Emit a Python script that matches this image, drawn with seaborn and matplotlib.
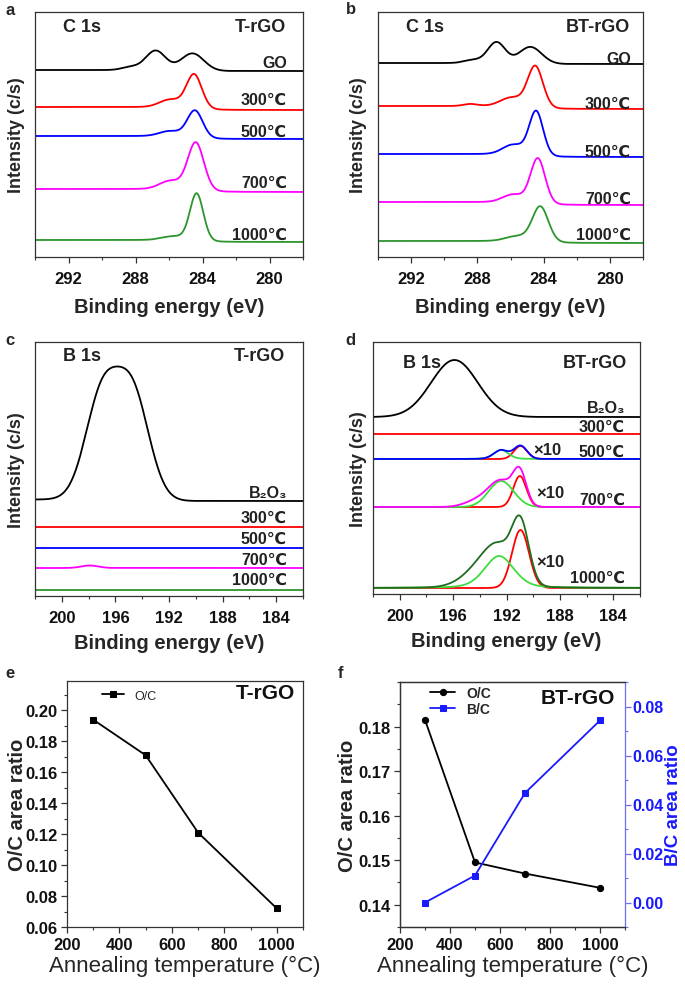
import numpy as np
import pandas as pd
import seaborn as sns
import matplotlib
matplotlib.use('Agg')
import matplotlib.pyplot as plt
from matplotlib.ticker import MultipleLocator, FormatStrFormatter

# ---------------- data ----------------
# spectra: baseline offset, Shirley-like step, peaks (centre eV, height, fwhm eV, lorentz fraction)
temp_labels = ['300℃', '500℃', '700℃', '1000℃']
c1s_labels = ['GO'] + temp_labels
c1s_colors = ['black', 'red', 'blue', 'magenta', '#2c952c']

c1s_t_base = [186, 147, 118, 65, 15]
c1s_t_step = [1, 3, 3, 3, 2]
c1s_t_peaks = [
    [(284.6, 17.5, 1.6, 0), (286.8, 19.5, 1.4, 0), (288.3, 3, 1.2, 0)],
    [(284.5, 35, 1.1, 0.1), (285.9, 8, 1.5, 0)],
    [(284.45, 28, 1.1, 0.1), (285.9, 5.5, 1.5, 0)],
    [(284.4, 49, 1.15, 0.1), (285.9, 8.5, 1.5, 0)],
    [(284.35, 48, 0.95, 0.1), (285.7, 4, 1.6, 0)],
]
c1s_t_label_y = [195, 158, 126, 75, 23]

c1s_bt_base = [193, 148, 100, 52, 14]
c1s_bt_step = [1, 3, 3, 3, 2]
c1s_bt_peaks = [
    [(284.8, 17, 1.6, 0), (286.85, 21, 1.25, 0), (288.3, 3, 1.2, 0)],
    [(284.5, 42, 1.1, 0.1), (285.9, 9, 1.6, 0), (288.4, 2, 1.0, 0)],
    [(284.45, 45, 1.0, 0.1), (285.8, 10, 1.5, 0)],
    [(284.35, 46, 1.05, 0.1), (285.8, 8, 1.5, 0)],
    [(284.2, 36, 1.15, 0.1), (285.6, 5, 1.6, 0)],
]
c1s_bt_label_y = [199, 154, 106, 59, 23]

b1s_labels = ['B₂O₃'] + temp_labels
b1s_colors = ['black', 'red', 'blue', 'magenta', '#2c952c']
b1s_t_base = [95, 69, 48, 28, 6]
b1s_t_step = [1.5, 0, 0, 0, 0]
b1s_t_peaks = [
    [(197.0, 104, 2.9, 0), (194.7, 104, 2.9, 0)],
    [],
    [],
    [(197.9, 2.5, 1.5, 0)],
    [],
]
b1s_t_label_y = [103, 79, 58, 37, 17]

# BT-rGO B 1s: B2O3 and 300 C curves, then fitted 500/700/1000 C curves
b1s_bt_b2o3 = (177, [(195.9, 57, 4.1, 0)])
b1s_bt_300 = 160
b1s_bt_fit_base = [135, 87, 6]
b1s_bt_fit_colors = ['blue', 'magenta', '#1f6d1f']
b1s_bt_green = [(192.4, 9, 1.3, 0.2), (192.4, 26, 2.2, 0), (192.55, 32, 2.6, 0.3)]
b1s_bt_red = [(190.95, 13, 1.15, 0), (191.0, 31, 1.15, 0), (190.95, 58, 1.5, 0)]
b1s_bt_extra = [(193.5, 0, 2.0, 0), (194.2, 6, 2.2, 0), (193.8, 18, 3.2, 0)]
b1s_bt_label_y = [186, 168, 143, 95, 17]
x10_pos = [(190.0, 144), (189.8, 101), (189.8, 32)]

# area ratios
anneal_t = [300, 500, 700, 1000]
oc_t_rgo = [0.194, 0.171, 0.121, 0.072]
oc_bt_rgo = [0.1815, 0.1495, 0.147, 0.1438]
bc_bt_rgo = [0.000, 0.011, 0.0447, 0.0743]

# ---------------- helpers ----------------
def peak(x, c, h, w, eta):
    g = np.exp(-4 * np.log(2) * ((x - c) / w) ** 2)
    l = 1 / (1 + 4 * ((x - c) / w) ** 2)
    return h * ((1 - eta) * g + eta * l)

def spectrum(x, base, step, peaks):
    y = np.full_like(x, base, dtype=float)
    if step and peaks:
        y += step / (1 + np.exp(-(x - peaks[0][0] - 1.0) / 0.5))
    for p in peaks:
        y += peak(x, *p)
    return y

def style_xps(ax, xlim, ytop, xpad, ylab_x):
    ax.set_xlim(*xlim)
    ax.set_ylim(0, ytop)
    ax.set_yticks([])
    ax.xaxis.set_major_locator(MultipleLocator(4))
    ax.xaxis.set_minor_locator(MultipleLocator(2))
    ax.tick_params(axis='x', which='major', length=4, width=0.9, labelsize=12, pad=6)
    ax.tick_params(axis='x', which='minor', length=2.5, width=0.8)
    ax.set_xlabel('Binding energy (eV)', fontsize=14.5, fontweight='bold', labelpad=xpad)
    ax.set_ylabel('Intensity (c/s)', fontsize=13, fontweight='bold')
    ax.yaxis.set_label_coords(ylab_x, 0.5)

def curve_labels(ax, labels, ys, xr, size=11.5):
    tr = ax.get_yaxis_transform()
    for lab, yy in zip(labels, ys):
        ax.text(xr, yy, lab, transform=tr, ha='right', va='center',
                fontsize=size, fontweight='bold', color='#222222')

def corner_labels(ax, left, right, xl, xr, yy):
    ax.text(xl, yy, left, transform=ax.transAxes, ha='center', va='center',
            fontsize=13, fontweight='bold', color='#222222')
    ax.text(xr, yy, right, transform=ax.transAxes, ha='right', va='center',
            fontsize=13, fontweight='bold', color='#222222')

# ---------------- figure ----------------
sns.set_theme(style='ticks')
plt.rcParams['font.family'] = ['Liberation Sans', 'DejaVu Sans']
plt.rcParams['font.weight'] = 'bold'
plt.rcParams['axes.linewidth'] = 0.9
plt.rcParams['axes.edgecolor'] = '#333333'
plt.rcParams['xtick.color'] = '#333333'
plt.rcParams['ytick.color'] = '#333333'
plt.rcParams['xtick.labelcolor'] = '#111111'
plt.rcParams['ytick.labelcolor'] = '#111111'

W, H = 685, 987
fig = plt.figure(figsize=(W / 100, H / 100), dpi=100)

def rect(l, r, t, b):
    return [l / W, 1 - b / H, (r - l) / W, (b - t) / H]

ax_a = fig.add_axes(rect(35, 303, 13, 258))
ax_b = fig.add_axes(rect(378, 643, 13, 258))
ax_c = fig.add_axes(rect(35, 303, 343, 597))
ax_d = fig.add_axes(rect(373, 640, 343, 595))
ax_e = fig.add_axes(rect(67, 303, 682, 928))
ax_f = fig.add_axes(rect(400, 625, 683, 928))

lw = 1.3
e_c = np.linspace(278, 294, 700)
e_b = np.linspace(182, 202, 700)

# a
for b, s, p, col in zip(c1s_t_base, c1s_t_step, c1s_t_peaks, c1s_colors):
    sns.lineplot(x=e_c, y=spectrum(e_c, b, s, p), ax=ax_a, color=col, lw=lw)
style_xps(ax_a, (294, 278), 245, 8, -0.037)
curve_labels(ax_a, c1s_labels, c1s_t_label_y, 0.94)
corner_labels(ax_a, 'C 1s', 'T-rGO', 0.175, 0.935, 0.94)

# b
for b, s, p, col in zip(c1s_bt_base, c1s_bt_step, c1s_bt_peaks, c1s_colors):
    sns.lineplot(x=e_c, y=spectrum(e_c, b, s, p), ax=ax_b, color=col, lw=lw)
style_xps(ax_b, (294, 278), 245, 8, -0.042)
curve_labels(ax_b, c1s_labels, c1s_bt_label_y, 0.955)
corner_labels(ax_b, 'C 1s', 'BT-rGO', 0.177, 0.951, 0.94)

# c
for b, s, p, col in zip(b1s_t_base, b1s_t_step, b1s_t_peaks, b1s_colors):
    sns.lineplot(x=e_b, y=spectrum(e_b, b, s, p), ax=ax_c, color=col, lw=lw)
style_xps(ax_c, (202, 182), 254, 6, -0.037)
curve_labels(ax_c, b1s_labels, b1s_t_label_y, 0.94)
corner_labels(ax_c, 'B 1s', 'T-rGO', 0.175, 0.933, 0.945)

# d
sns.lineplot(x=e_b, y=spectrum(e_b, b1s_bt_b2o3[0], 0, b1s_bt_b2o3[1]), ax=ax_d, color='black', lw=lw)
sns.lineplot(x=e_b, y=spectrum(e_b, b1s_bt_300, 0, []), ax=ax_d, color='red', lw=lw)
for b, col, g, r, ex in zip(b1s_bt_fit_base, b1s_bt_fit_colors, b1s_bt_green, b1s_bt_red, b1s_bt_extra):
    sns.lineplot(x=e_b, y=spectrum(e_b, b, 0, [r]), ax=ax_d, color='red', lw=lw)
    sns.lineplot(x=e_b, y=spectrum(e_b, b, 0, [g]), ax=ax_d, color='#3fdc3f', lw=lw)
    sns.lineplot(x=e_b, y=spectrum(e_b, b, 0, [g, r, ex]), ax=ax_d, color=col, lw=lw)
style_xps(ax_d, (202, 182), 252, 6, -0.024)
curve_labels(ax_d, b1s_labels, b1s_bt_label_y, 0.944)
for ex, ey in x10_pos:
    ax_d.text(ex, ey, '×10', ha='left', va='center', fontsize=12, fontweight='bold', color='#222222')
corner_labels(ax_d, 'B 1s', 'BT-rGO', 0.183, 0.95, 0.92)

# e
sns.lineplot(x=anneal_t, y=oc_t_rgo, ax=ax_e, color='black', lw=1.3, marker='s',
             markersize=5, markeredgecolor='black', label='O/C')
ax_e.set_xlim(200, 1100)
ax_e.set_ylim(0.06, 0.219)
ax_e.set_yticks(np.arange(0.06, 0.201, 0.02))
ax_e.yaxis.set_minor_locator(MultipleLocator(0.01))
ax_e.set_xticks([200, 400, 600, 800, 1000])
ax_e.xaxis.set_minor_locator(MultipleLocator(100))
ax_e.tick_params(which='major', length=4, width=0.9, labelsize=12, pad=3)
ax_e.tick_params(which='minor', length=2.5, width=0.8)
ax_e.set_xlabel('Annealing temperature (°C)', fontsize=16, fontweight='normal', labelpad=2)
ax_e.set_ylabel('O/C area ratio', fontsize=14.5, fontweight='bold')
ax_e.yaxis.set_label_coords(-0.17, 0.5)
ax_e.legend(loc='upper left', bbox_to_anchor=(0.1, 1.01), frameon=False,
            prop={'size': 9, 'weight': 'normal'}, handlelength=1.8)
ax_e.text(0.965, 0.955, 'T-rGO', transform=ax_e.transAxes, ha='right', va='center',
          fontsize=15, fontweight='bold', color='#111111')

# f
blue = '#1a1aff'
sns.lineplot(x=anneal_t, y=oc_bt_rgo, ax=ax_f, color='black', lw=1.3, marker='o',
             markersize=4.5, markeredgecolor='black', label='O/C')
ax_f2 = ax_f.twinx()
sns.lineplot(x=anneal_t, y=bc_bt_rgo, ax=ax_f2, color=blue, lw=1.3, marker='s',
             markersize=4.5, markeredgecolor=blue, label='B/C')
ax_f.set_xlim(200, 1100)
ax_f.set_ylim(0.135, 0.19)
ax_f.set_yticks([0.14, 0.15, 0.16, 0.17, 0.18])
ax_f.yaxis.set_minor_locator(MultipleLocator(0.005))
ax_f.set_xticks([200, 400, 600, 800, 1000])
ax_f.xaxis.set_minor_locator(MultipleLocator(100))
ax_f2.set_ylim(-0.01, 0.09)
ax_f2.set_yticks([0.00, 0.02, 0.04, 0.06, 0.08])
ax_f2.yaxis.set_minor_locator(MultipleLocator(0.01))
ax_f2.yaxis.set_major_formatter(FormatStrFormatter('%.2f'))
for a in (ax_f, ax_f2):
    a.tick_params(which='major', length=4, width=0.9, labelsize=12, pad=3)
    a.tick_params(which='minor', length=2.5, width=0.8)
ax_f2.tick_params(axis='y', which='both', colors='#6f6ff0', labelcolor=blue)
ax_f2.tick_params(axis='y', which='major', labelsize=11.5, pad=1.5)
ax_f2.spines['right'].set_color('#6f6ff0')
ax_f.spines['right'].set_visible(False)
ax_f.set_xlabel('Annealing temperature (°C)', fontsize=16, fontweight='normal', labelpad=2)
ax_f.set_ylabel('O/C area ratio', fontsize=14.5, fontweight='bold')
ax_f.yaxis.set_label_coords(-0.19, 0.5)
ax_f2.set_ylabel('B/C area ratio', fontsize=13.5, fontweight='bold', color=blue)
ax_f2.yaxis.set_label_coords(1.18, 0.5)
h1, l1 = ax_f.get_legend_handles_labels()
h2, l2 = ax_f2.get_legend_handles_labels()
ax_f2.get_legend().remove()
ax_f.get_legend().remove()
ax_f2.legend(h1 + h2, l1 + l2, loc='upper left', bbox_to_anchor=(0.08, 1.035), frameon=False,
             prop={'size': 10, 'weight': 'bold'}, handlelength=1.8, labelspacing=0.15)
ax_f.text(0.955, 0.935, 'BT-rGO', transform=ax_f.transAxes, ha='right', va='center',
          fontsize=15, fontweight='bold', color='#111111')

# panel letters
for lab, px, py in [('a', 5, 3), ('b', 346, 2), ('c', 5, 333), ('d', 345, 333), ('e', 5, 666), ('f', 338, 666)]:
    fig.text(px / W, 1 - py / H, lab, ha='left', va='top', fontsize=12, fontweight='bold')

fig.savefig('out.png', dpi=100)
